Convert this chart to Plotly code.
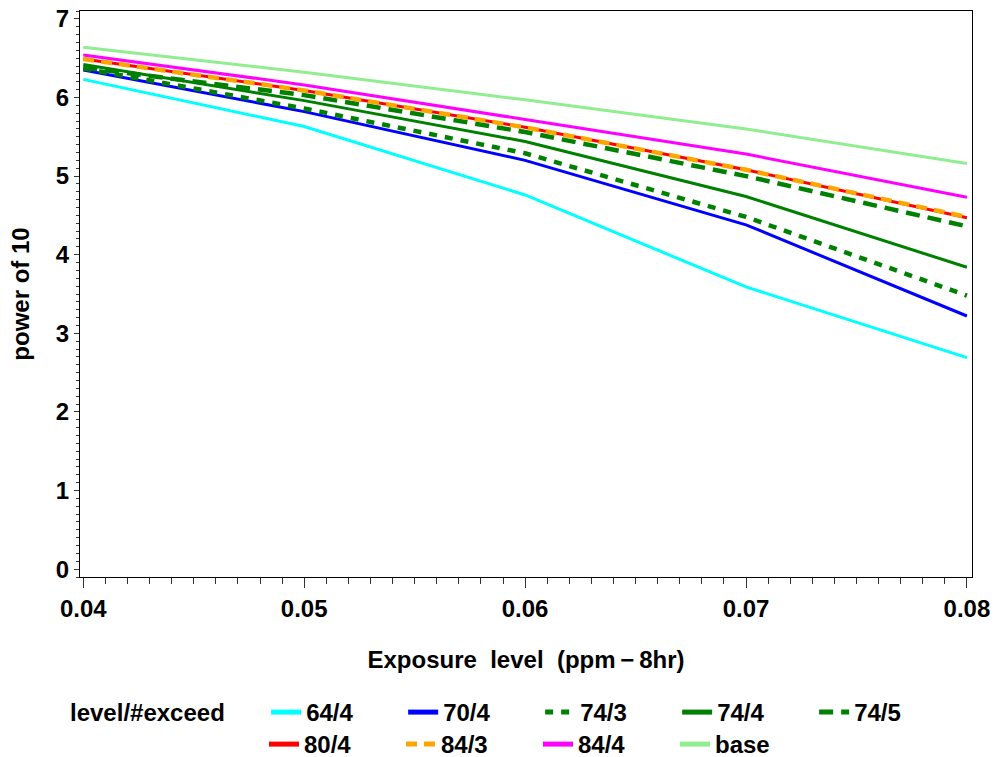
import plotly.graph_objects as go

x_vals = [0.04, 0.05, 0.06, 0.07, 0.08]

names = ["64/4", "70/4", "74/3", "74/4", "74/5", "80/4", "84/3", "84/4", "base"]

s_64_4 = [6.23, 5.63, 4.76, 3.59, 2.69]
s_70_4 = [6.35, 5.82, 5.20, 4.38, 3.22]
s_74_3 = [6.37, 5.86, 5.29, 4.48, 3.48]
s_74_4 = [6.42, 5.96, 5.44, 4.74, 3.84]
s_74_5 = [6.38, 6.03, 5.56, 5.00, 4.36]
s_80_4 = [6.49, 6.09, 5.62, 5.08, 4.47]
s_84_3 = [6.49, 6.09, 5.62, 5.08, 4.48]
s_84_4 = [6.54, 6.16, 5.72, 5.28, 4.73]
s_base = [6.64, 6.32, 5.97, 5.60, 5.16]

series = [s_64_4, s_70_4, s_74_3, s_74_4, s_74_5, s_80_4, s_84_3, s_84_4, s_base]

colors = ["#00FFFF", "#0000FF", "#008000", "#008000", "#008000",
          "#FF0000", "#FFA500", "#FF00FF", "#90EE90"]
dashes = ["solid", "solid", "8px,8px", "solid", "14px,8px",
          "solid", "11px,7px", "solid", "solid"]
widths = [3, 3, 4.5, 3, 4.5, 3, 4.5, 3, 3]
legend_rows = ["legend"] * 5 + ["legend2"] * 4

FONT = "Liberation Sans, Arial, sans-serif"

fig = go.Figure()
for name, ys, c, d, w, lg in zip(names, series, colors, dashes, widths, legend_rows):
    fig.add_trace(go.Scatter(x=x_vals, y=ys, mode="lines", name=name, legend=lg,
                             line=dict(color=c, dash=d, width=w)))

legend_common = dict(
    orientation="h",
    xref="container", yref="container",
    xanchor="left", yanchor="top",
    entrywidth=92, entrywidthmode="pixels",
    font=dict(family=FONT, size=24, weight="bold"),
    tracegroupgap=0, itemsizing="constant",
    bgcolor="rgba(0,0,0,0)",
)

fig.update_layout(
    width=995, height=757,
    margin=dict(l=80, r=23, t=11, b=180, autoexpand=False),
    plot_bgcolor="white", paper_bgcolor="white",
    font=dict(family=FONT, size=24, color="black", weight="bold"),
    showlegend=True,
    legend=dict(
        legend_common,
        x=68/995, y=1 - 690/757,
        title=dict(text="level/#exceed\u00a0\u00a0\u00a0\u00a0\u00a0", side="left",
                   font=dict(family=FONT, size=24, weight="bold")),
    ),
    legend2=dict(
        legend_common,
        x=264/995, y=1 - 722/757,
    ),
)

fig.update_xaxes(
    range=[0.03985, 0.08023],
    tickvals=[0.04, 0.05, 0.06, 0.07, 0.08],
    ticktext=["0.04", "0.05", "0.06", "0.07", "0.08"],
    ticks="outside", ticklen=10, tickwidth=1, tickcolor="#333",
    minor=dict(ticks="outside", ticklen=6, dtick=0.001, tick0=0.04,
               tickcolor="#333", showgrid=False),
    showline=True, linecolor="black", linewidth=1, mirror=True,
    showgrid=False, zeroline=False, automargin=False,
    tickfont=dict(family=FONT, size=24, weight="bold"),
    title=dict(text="Exposure\u00a0 level\u00a0 (ppm\u2009\u2212\u20098hr)",
               font=dict(family=FONT, size=24, weight="bold"), standoff=30),
)

fig.update_yaxes(
    range=[-0.10, 7.10],
    tickvals=[0, 1, 2, 3, 4, 5, 6, 7],
    ticks="outside", ticklen=5, tickwidth=1, tickcolor="#333",
    minor=dict(ticks="outside", ticklen=3, dtick=0.1, tick0=0,
               tickcolor="#333", showgrid=False),
    showline=True, linecolor="black", linewidth=1, mirror=True,
    showgrid=False, zeroline=False, automargin=False,
    tickfont=dict(family=FONT, size=24, weight="bold"),
    title=dict(text="power of 10",
               font=dict(family=FONT, size=24, weight="bold"), standoff=19),
)

fig.write_html(
    "out.html",
    config={"displayModeBar": False},
    post_script="document.body.style.margin='0';document.body.style.overflow='hidden';",
)
